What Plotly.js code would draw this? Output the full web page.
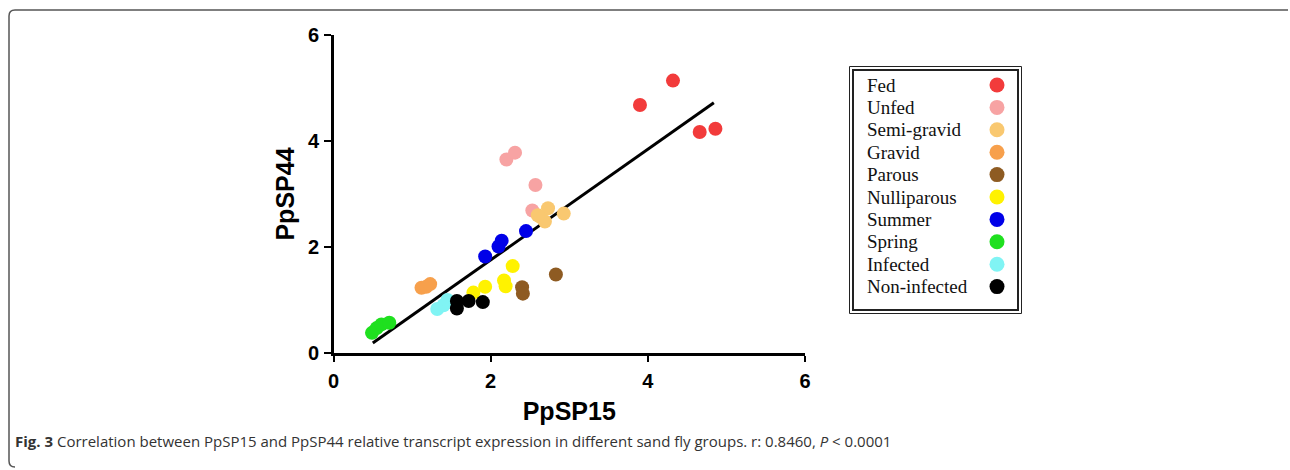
<!DOCTYPE html>
<html>
<head>
<meta charset="utf-8">
<script src="https://cdn.plot.ly/plotly-3.0.1.min.js"></script>
<style>html,body{margin:0;padding:0;background:#fff;}#chart{width:1290px;height:470px;}</style>
</head>
<body>
<div id="chart"></div>
<script>
// ---- data ----
var categories = ["Fed","Unfed","Semi-gravid","Gravid","Parous","Nulliparous","Summer","Spring","Infected","Non-infected"];
var colors = ["#f23b3b","#f7a3a3","#f9c870","#f7a04c","#8e5b22","#fff200","#0000e8","#1fe01f","#80f4f4","#000000"];

var fedX = [3.90, 4.32, 4.66, 4.86];            var fedY = [4.68, 5.14, 4.17, 4.23];
var unfedX = [2.20, 2.31, 2.57, 2.53];          var unfedY = [3.65, 3.78, 3.17, 2.69];
var semiX = [2.73, 2.63, 2.69, 2.93, 2.60];     var semiY = [2.73, 2.57, 2.48, 2.63, 2.60];
var gravidX = [1.12, 1.18, 1.23];               var gravidY = [1.23, 1.25, 1.30];
var parousX = [2.83, 2.40, 2.41];               var parousY = [1.48, 1.24, 1.12];
var nulliX = [2.28, 2.17, 2.19, 1.93, 1.78];    var nulliY = [1.64, 1.37, 1.26, 1.25, 1.14];
var summerX = [1.93, 2.10, 2.14, 2.45];         var summerY = [1.82, 2.01, 2.12, 2.30];
var springX = [0.49, 0.55, 0.61, 0.71];         var springY = [0.38, 0.47, 0.54, 0.57];
var infX = [1.32, 1.40, 1.45];                  var infY = [0.83, 0.90, 1.00];
var noninfX = [1.57, 1.57, 1.72, 1.90];         var noninfY = [0.98, 0.84, 0.98, 0.96];

var fitX = [0.50, 4.84];
var fitY = [0.19, 4.72];

var xTicks = [0, 2, 4, 6];
var yTicks = [0, 2, 4, 6];
var xTitle = "PpSP15";
var yTitle = "PpSP44";
var caption = "<b>Fig. 3</b> Correlation between PpSP15 and PpSP44 relative transcript expression in different sand fly groups. r: 0.8460, <i>P</i> &lt; 0.0001";

var groupX = [fedX, unfedX, semiX, gravidX, parousX, nulliX, summerX, springX, infX, noninfX];
var groupY = [fedY, unfedY, semiY, gravidY, parousY, nulliY, summerY, springY, infY, noninfY];

// ---- pixel helpers (margins are zero, so paper = pixel fraction) ----
var W = 1290, H = 470;
function px(x){ return x / W; }
function py(y){ return 1 - y / H; }

var traces = [];
traces.push({x: fitX, y: fitY, mode: "lines", line: {color: "#000", width: 3}, hoverinfo: "skip", showlegend: false});
for (var i = 0; i < categories.length; i++) {
  traces.push({
    x: groupX[i], y: groupY[i], mode: "markers", name: categories[i],
    marker: {color: colors[i], size: 14, line: {width: 0}}, showlegend: false
  });
}
// legend drawn in its own little axes
var legRowY = categories.map(function(c, i){ return i; });
var legMarkX = categories.map(function(){ return 997; });
traces.push({
  x: legMarkX, y: legRowY, mode: "markers", xaxis: "x2", yaxis: "y2",
  marker: {color: colors, size: 15, line: {width: 0}}, showlegend: false, hoverinfo: "skip"
});

var annotations = categories.map(function(c, i){
  return {xref: "x2", yref: "y2", x: 865, y: i, text: c, showarrow: false, xanchor: "left", yanchor: "middle",
          font: {family: "Liberation Serif, Times New Roman, serif", size: 19, color: "#111"}};
});
annotations.push({
  xref: "paper", yref: "paper", x: px(13), y: py(441), xanchor: "left", yanchor: "middle", showarrow: false,
  text: caption, font: {family: "Open Sans, sans-serif", size: 15, color: "#333"}
});

var r = 6;
var borderPath = "M " + px(1288) + "," + py(10) +
  " L " + px(9 + r) + "," + py(10) +
  " Q " + px(9) + "," + py(10) + " " + px(9) + "," + py(10 + r) +
  " L " + px(9) + "," + py(467 - r) +
  " Q " + px(9) + "," + py(467) + " " + px(9 + r) + "," + py(467);

var shapes = [
  {type: "path", xref: "paper", yref: "paper", path: borderPath, line: {color: "#555", width: 1.5}},
  {type: "rect", xref: "paper", yref: "paper", x0: px(849.5), x1: px(1021.5), y0: py(313.5), y1: py(66.5), line: {color: "#222", width: 1}},
  {type: "rect", xref: "paper", yref: "paper", x0: px(853), x1: px(1018), y0: py(310), y1: py(70), line: {color: "#222", width: 2}}
];

var tickFont = {family: "Liberation Sans, Arial, sans-serif", size: 20, color: "#000", weight: "bold"};
var titleFont = {family: "Liberation Sans, Arial, sans-serif", size: 25, color: "#000", weight: "bold"};

var layout = {
  width: W, height: H,
  margin: {l: 0, r: 0, t: 0, b: 0},
  paper_bgcolor: "#fff", plot_bgcolor: "#fff",
  showlegend: false,
  xaxis: {
    domain: [px(333.5), px(805)], range: [0, 6], tickvals: xTicks, ticktext: xTicks.map(String),
    showgrid: false, zeroline: false, showline: true, linecolor: "#000", linewidth: 2.5,
    ticks: "outside", ticklen: 6, tickwidth: 2, tickcolor: "#000", ticklabelstandoff: 2,
    tickfont: tickFont,
    title: {text: xTitle, standoff: 12, font: titleFont}
  },
  yaxis: {
    domain: [py(353), py(35)], range: [0, 6], tickvals: yTicks, ticktext: yTicks.map(String),
    showgrid: false, zeroline: false, showline: true, linecolor: "#000", linewidth: 2.5,
    ticks: "outside", ticklen: 7, tickwidth: 2, tickcolor: "#000", ticklabelstandoff: 1,
    tickfont: tickFont,
    title: {text: yTitle, standoff: 6, font: titleFont}
  },
  xaxis2: {domain: [px(850), px(1021)], range: [850, 1021], visible: false, fixedrange: true, anchor: "y2"},
  yaxis2: {domain: [py(313), py(67)], range: [(313 - 85) / 22.4, (67 - 85) / 22.4], visible: false, fixedrange: true, anchor: "x2"},
  annotations: annotations,
  shapes: shapes
};

Plotly.newPlot("chart", traces, layout, {displayModeBar: false, staticPlot: true});
</script>
</body>
</html>
